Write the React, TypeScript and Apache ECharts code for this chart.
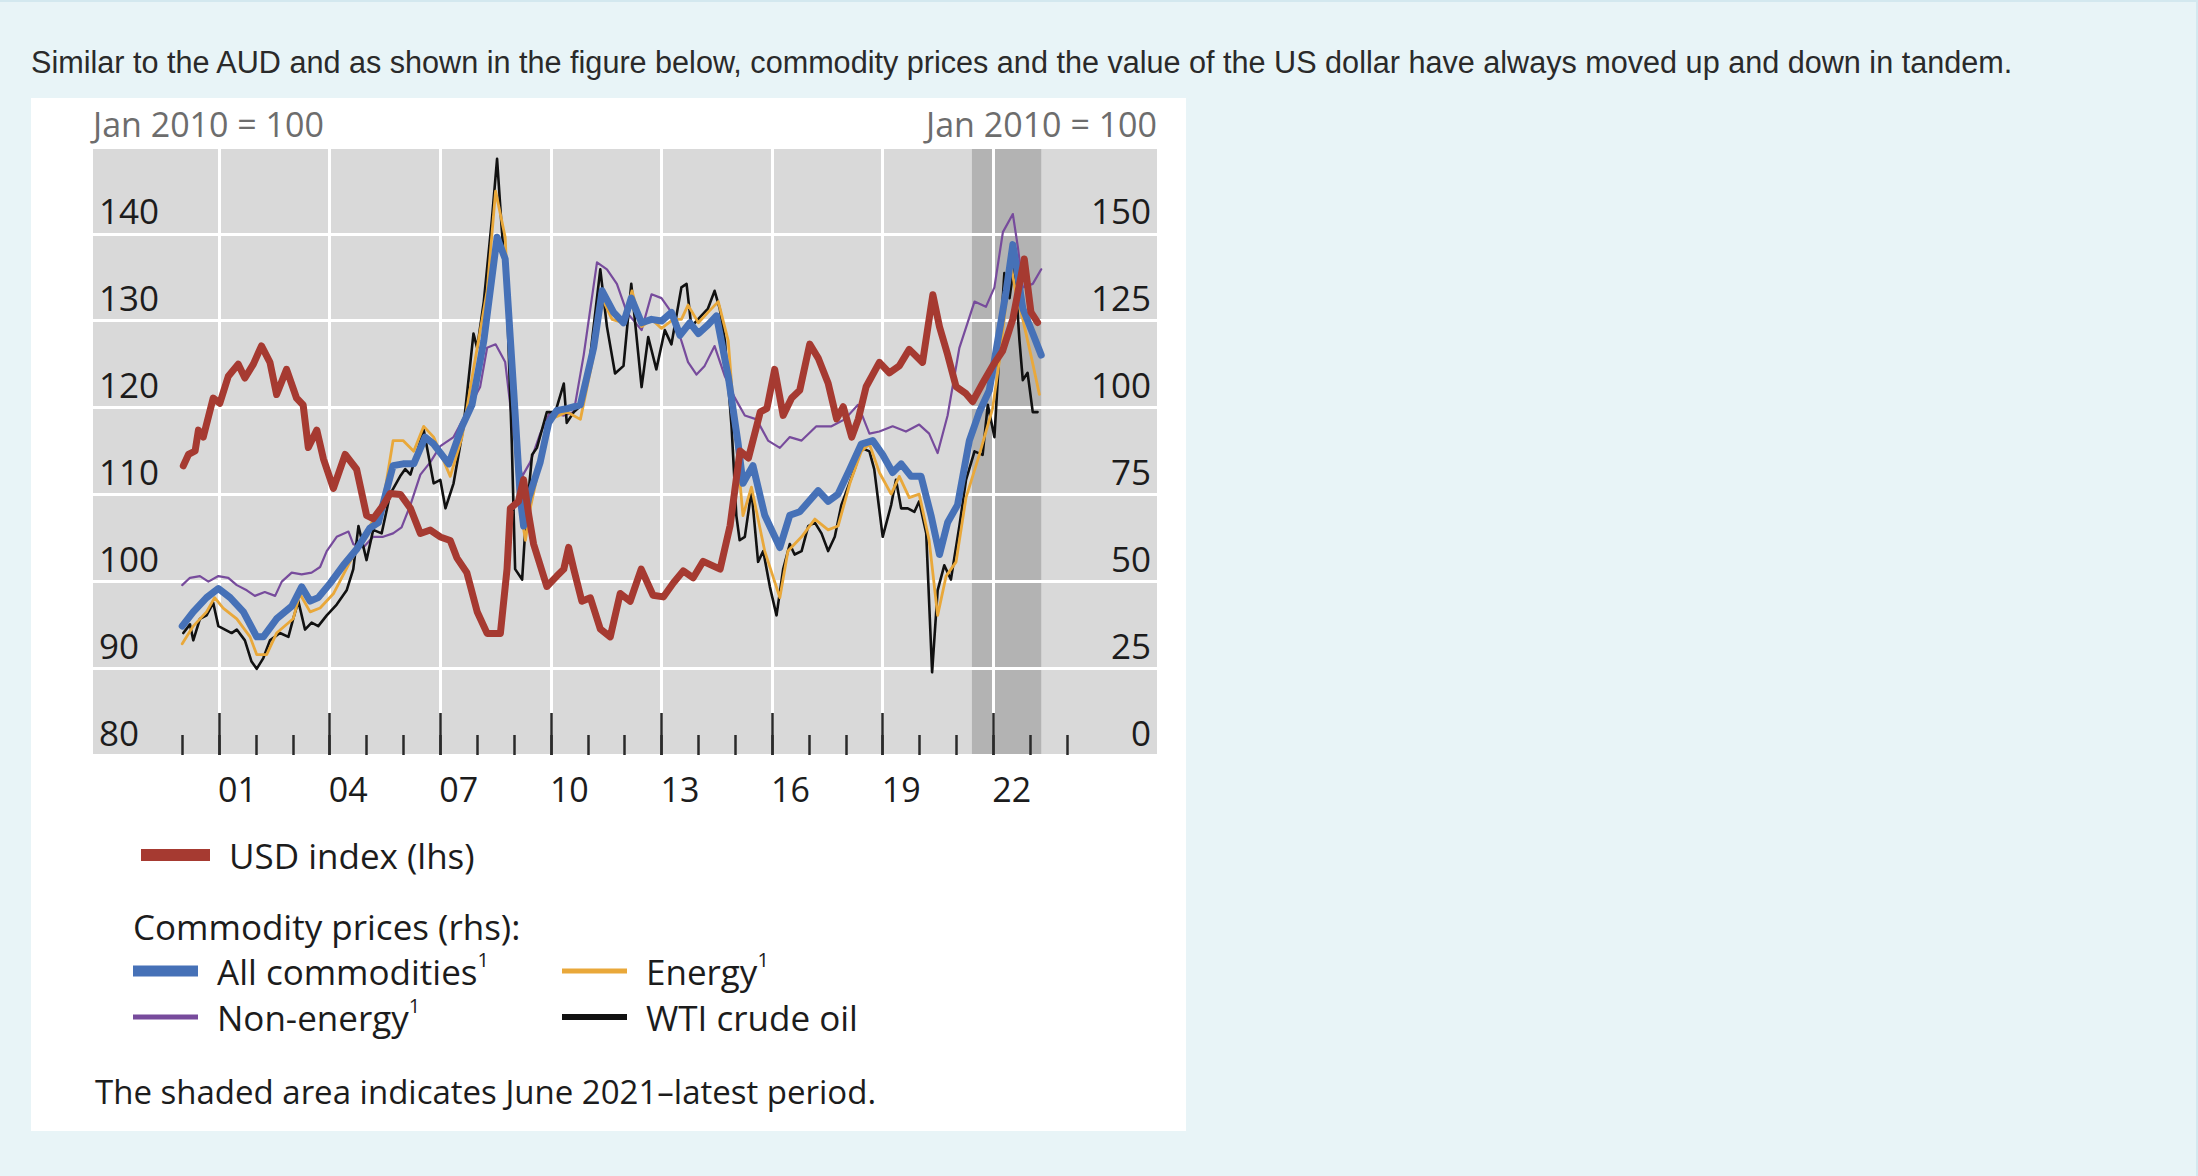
import { useEffect, useRef } from "react";
import * as echarts from "echarts";

const PAGE_W = 2198;
const PAGE_H = 1176;

// ---- data: [decimal year, index] ----
const usdIndex: [number, number][] = [
  [2000.03, 113.3], [2000.17, 114.6], [2000.35, 115.0], [2000.44, 117.4], [2000.57, 116.6], [2000.84, 121.1],
  [2001.02, 120.5], [2001.25, 123.6], [2001.52, 125.0], [2001.70, 123.4], [2001.93, 125.0], [2002.15, 127.1],
  [2002.38, 125.2], [2002.56, 121.5], [2002.83, 124.4], [2003.10, 121.1], [2003.28, 120.3], [2003.42, 115.4],
  [2003.65, 117.4], [2003.83, 114.1], [2004.10, 110.7], [2004.42, 114.6], [2004.73, 112.9], [2005.00, 107.6],
  [2005.18, 107.2], [2005.46, 108.8], [2005.64, 110.1], [2005.92, 110.0], [2006.19, 108.4], [2006.46, 105.5],
  [2006.73, 105.9], [2007.00, 105.1], [2007.27, 104.7], [2007.45, 102.7], [2007.72, 101.0], [2008.00, 96.5],
  [2008.27, 94.0], [2008.63, 94.0], [2008.81, 101.4], [2008.90, 108.4], [2009.12, 109.2], [2009.26, 111.7],
  [2009.40, 107.6], [2009.53, 104.3], [2009.89, 99.4], [2010.16, 100.6], [2010.35, 101.4], [2010.48, 103.9],
  [2010.62, 101.4], [2010.84, 97.7], [2011.07, 98.1], [2011.34, 94.5], [2011.61, 93.6], [2011.88, 98.6],
  [2012.15, 97.7], [2012.45, 101.4], [2012.77, 98.4], [2013.05, 98.2], [2013.32, 99.8], [2013.59, 101.2],
  [2013.86, 100.4], [2014.13, 102.3], [2014.59, 101.4], [2014.86, 106.4], [2015.13, 115.0], [2015.36, 114.2],
  [2015.68, 119.5], [2015.86, 119.9], [2016.07, 124.4], [2016.30, 119.1], [2016.53, 121.1], [2016.75, 122.0],
  [2017.02, 127.3], [2017.25, 125.7], [2017.52, 122.8], [2017.75, 118.7], [2017.93, 120.1], [2018.16, 116.6],
  [2018.34, 118.7], [2018.55, 122.4], [2018.91, 125.2], [2019.18, 124.0], [2019.45, 124.8], [2019.72, 126.7],
  [2020.08, 125.2], [2020.36, 133.0], [2020.54, 129.3], [2020.76, 126.1], [2020.99, 122.4], [2021.26, 121.6],
  [2021.44, 120.7], [2021.71, 122.8], [2021.98, 124.8], [2022.25, 126.5], [2022.53, 130.2], [2022.84, 137.1],
  [2023.02, 131.0], [2023.20, 129.8],
];

const allCommodities: [number, number][] = [
  [2000.00, 37.1], [2000.30, 41.2], [2000.66, 45.3], [2000.98, 47.9], [2001.30, 45.3], [2001.66, 41.2],
  [2002.02, 34.0], [2002.20, 34.0], [2002.56, 39.2], [2002.97, 42.8], [2003.24, 48.4], [2003.47, 44.3],
  [2003.69, 45.3], [2004.01, 49.4], [2004.37, 54.6], [2004.73, 59.2], [2005.09, 65.3], [2005.32, 66.9],
  [2005.54, 76.1], [2005.72, 83.3], [2005.99, 83.8], [2006.28, 83.8], [2006.59, 91.5], [2006.82, 89.5],
  [2007.23, 83.8], [2007.59, 94.6], [2007.86, 100.8], [2008.18, 119.2], [2008.54, 149.0], [2008.76, 142.8],
  [2008.99, 104.9], [2009.17, 74.1], [2009.26, 65.9], [2009.40, 74.1], [2009.71, 84.3], [2009.94, 95.6],
  [2010.16, 99.2], [2010.44, 99.7], [2010.80, 100.8], [2011.16, 117.2], [2011.39, 133.6], [2011.70, 127.4],
  [2011.97, 124.4], [2012.18, 131.5], [2012.46, 124.4], [2012.73, 125.4], [2013.00, 124.9], [2013.27, 127.4],
  [2013.50, 120.8], [2013.77, 124.4], [2014.00, 121.3], [2014.26, 123.8], [2014.49, 126.4], [2014.81, 109.0],
  [2015.08, 89.5], [2015.21, 78.2], [2015.48, 83.3], [2015.80, 69.0], [2016.21, 59.7], [2016.48, 69.0],
  [2016.75, 70.0], [2017.25, 76.1], [2017.52, 73.0], [2017.79, 75.1], [2018.11, 82.3], [2018.42, 89.5],
  [2018.73, 90.5], [2019.00, 86.4], [2019.27, 81.3], [2019.50, 83.8], [2019.77, 80.2], [2020.04, 80.2],
  [2020.31, 69.0], [2020.54, 57.7], [2020.76, 66.9], [2021.03, 72.0], [2021.35, 90.5], [2021.62, 98.7],
  [2021.89, 104.9], [2022.12, 119.2], [2022.35, 133.6], [2022.53, 146.9], [2022.67, 137.7], [2022.80, 128.5],
  [2023.07, 121.3], [2023.30, 115.1],
];

const energy: [number, number][] = [
  [2000.00, 32.0], [2000.30, 37.1], [2000.66, 41.2], [2000.88, 45.3], [2001.11, 42.3], [2001.48, 39.2],
  [2001.84, 34.0], [2002.02, 28.9], [2002.29, 28.9], [2002.56, 35.1], [2003.01, 39.2], [2003.19, 46.4],
  [2003.47, 41.2], [2003.74, 42.3], [2004.10, 46.4], [2004.55, 55.6], [2004.73, 58.7], [2005.09, 65.9],
  [2005.45, 73.0], [2005.72, 90.5], [2005.99, 90.5], [2006.28, 87.4], [2006.55, 94.6], [2006.82, 91.5],
  [2007.27, 80.2], [2007.59, 91.5], [2007.90, 111.0], [2008.27, 133.6], [2008.50, 162.3], [2008.76, 149.0],
  [2008.94, 110.0], [2009.12, 74.1], [2009.31, 61.8], [2009.44, 71.0], [2009.71, 84.3], [2009.98, 96.6],
  [2010.44, 98.7], [2010.80, 96.6], [2011.16, 115.1], [2011.39, 131.5], [2011.66, 125.4], [2011.97, 124.4],
  [2012.20, 133.6], [2012.46, 123.3], [2012.73, 125.4], [2013.00, 122.8], [2013.32, 125.4], [2013.54, 125.4],
  [2013.72, 129.5], [2014.00, 124.4], [2014.26, 127.4], [2014.54, 130.5], [2014.81, 119.2], [2014.99, 94.6],
  [2015.21, 68.9], [2015.44, 77.1], [2015.80, 58.7], [2016.21, 45.3], [2016.43, 58.7], [2016.80, 62.8],
  [2017.16, 67.9], [2017.52, 64.8], [2017.79, 65.9], [2018.11, 78.2], [2018.42, 87.4], [2018.64, 89.5],
  [2018.91, 81.3], [2019.23, 75.1], [2019.45, 80.2], [2019.72, 74.1], [2019.99, 75.1], [2020.26, 61.8],
  [2020.49, 40.2], [2020.72, 51.5], [2020.99, 55.6], [2021.26, 74.1], [2021.62, 86.4], [2021.98, 99.7],
  [2022.16, 113.1], [2022.35, 130.5], [2022.48, 140.8], [2022.62, 132.6], [2022.80, 125.4], [2023.02, 115.1],
  [2023.25, 103.8],
];

const nonEnergy: [number, number][] = [
  [2000.00, 48.9], [2000.21, 51.0], [2000.48, 51.5], [2000.71, 49.9], [2000.98, 51.5], [2001.25, 51.0],
  [2001.48, 48.9], [2001.75, 47.4], [2001.97, 45.8], [2002.24, 46.9], [2002.52, 45.8], [2002.70, 49.9],
  [2002.97, 52.5], [2003.24, 52.0], [2003.51, 52.5], [2003.74, 54.1], [2003.92, 58.7], [2004.19, 62.8],
  [2004.51, 64.3], [2004.64, 60.7], [2004.91, 59.7], [2005.18, 62.8], [2005.45, 62.8], [2005.72, 63.8],
  [2005.95, 65.5], [2006.19, 72.0], [2006.46, 80.7], [2006.73, 84.3], [2007.00, 88.9], [2007.36, 91.5],
  [2007.72, 98.7], [2008.08, 105.9], [2008.27, 117.2], [2008.50, 118.2], [2008.76, 113.1], [2008.99, 92.5],
  [2009.22, 80.2], [2009.44, 84.3], [2009.71, 92.5], [2009.98, 98.7], [2010.35, 97.7], [2010.62, 98.7],
  [2010.89, 115.1], [2011.25, 141.8], [2011.52, 139.8], [2011.79, 135.6], [2012.06, 127.4], [2012.46, 122.3],
  [2012.73, 132.6], [2013.00, 131.5], [2013.27, 127.4], [2013.54, 119.2], [2013.72, 113.1], [2013.95, 109.5],
  [2014.17, 112.0], [2014.44, 117.7], [2014.72, 109.0], [2014.99, 102.8], [2015.26, 97.7], [2015.58, 96.6],
  [2015.89, 90.5], [2016.21, 88.4], [2016.48, 91.5], [2016.80, 90.5], [2017.20, 94.6], [2017.61, 94.6],
  [2017.97, 96.6], [2018.33, 100.8], [2018.64, 92.5], [2018.91, 93.1], [2019.27, 94.6], [2019.63, 93.1],
  [2019.99, 95.1], [2020.26, 92.5], [2020.49, 86.9], [2020.76, 97.7], [2021.08, 117.2], [2021.49, 130.5],
  [2021.80, 129.0], [2022.03, 134.6], [2022.26, 150.5], [2022.53, 155.7], [2022.67, 145.9], [2022.80, 134.6],
  [2023.07, 135.6], [2023.30, 139.8],
];

const wtiCrude: [number, number][] = [
  [2000.03, 35.1], [2000.21, 37.6], [2000.30, 33.0], [2000.48, 39.2], [2000.66, 40.2], [2000.84, 43.8],
  [2000.98, 37.1], [2001.16, 36.1], [2001.34, 35.1], [2001.48, 36.1], [2001.70, 33.0], [2001.88, 26.9],
  [2002.02, 24.8], [2002.20, 27.9], [2002.38, 33.0], [2002.65, 35.1], [2002.88, 34.0], [2003.01, 39.2],
  [2003.15, 44.3], [2003.33, 36.1], [2003.51, 38.1], [2003.69, 37.1], [2003.92, 40.2], [2004.19, 43.3],
  [2004.46, 47.4], [2004.64, 53.5], [2004.78, 65.9], [2005.00, 56.1], [2005.18, 64.8], [2005.41, 63.8],
  [2005.64, 75.1], [2005.91, 80.2], [2006.05, 82.3], [2006.19, 80.7], [2006.55, 93.6], [2006.82, 78.2],
  [2007.00, 79.2], [2007.14, 71.0], [2007.36, 78.2], [2007.63, 94.6], [2007.90, 121.3], [2008.00, 117.2],
  [2008.18, 130.5], [2008.40, 154.1], [2008.54, 171.6], [2008.67, 151.0], [2008.81, 130.5], [2008.94, 89.5],
  [2009.03, 53.5], [2009.22, 50.5], [2009.31, 65.9], [2009.49, 86.4], [2009.62, 88.4], [2009.89, 98.7],
  [2010.12, 98.7], [2010.35, 106.9], [2010.43, 95.6], [2010.62, 98.7], [2010.84, 100.8], [2011.07, 115.1],
  [2011.34, 139.8], [2011.52, 123.3], [2011.74, 109.8], [2011.97, 112.0], [2012.18, 135.6], [2012.46, 105.9],
  [2012.64, 120.3], [2012.86, 111.0], [2013.09, 122.3], [2013.27, 118.2], [2013.54, 134.6], [2013.68, 135.6],
  [2013.81, 123.3], [2013.99, 125.4], [2014.26, 128.5], [2014.44, 133.6], [2014.58, 128.5], [2014.72, 119.2],
  [2014.90, 94.6], [2015.03, 68.9], [2015.12, 61.8], [2015.26, 62.8], [2015.44, 76.1], [2015.62, 55.6],
  [2015.76, 58.7], [2015.94, 48.4], [2016.12, 40.2], [2016.30, 53.5], [2016.48, 60.7], [2016.61, 57.7],
  [2016.80, 58.7], [2016.98, 65.9], [2017.16, 66.9], [2017.34, 63.8], [2017.52, 58.7], [2017.70, 62.8],
  [2017.88, 72.0], [2018.24, 82.3], [2018.42, 88.4], [2018.64, 87.4], [2018.77, 82.3], [2019.00, 62.8],
  [2019.23, 72.0], [2019.36, 79.2], [2019.50, 71.0], [2019.68, 71.0], [2019.86, 70.0], [2019.99, 73.0],
  [2020.18, 63.8], [2020.34, 23.8], [2020.49, 47.4], [2020.67, 54.6], [2020.85, 50.5], [2021.08, 65.9],
  [2021.26, 79.2], [2021.49, 87.4], [2021.71, 86.4], [2021.85, 100.8], [2022.03, 91.5], [2022.16, 115.1],
  [2022.30, 138.7], [2022.44, 131.5], [2022.57, 141.8], [2022.71, 119.2], [2022.80, 107.9], [2022.93, 110.0],
  [2023.07, 98.7], [2023.20, 98.7],
];

// ---- axes ----
const majorYears = [2001, 2004, 2007, 2010, 2013, 2016, 2019, 2022];
const minorYears = [
  2000, 2001, 2002, 2003, 2004, 2005, 2006, 2007, 2008, 2009, 2010, 2011, 2012,
  2013, 2014, 2015, 2016, 2017, 2018, 2019, 2020, 2021, 2022, 2023, 2024,
];
const yearLabels = [2001.5, 2004.5, 2007.5, 2010.5, 2013.5, 2016.5, 2019.5, 2022.5];
const shadedPeriod = [2021.42, 2023.3];
const xExtent = [1997.58, 2026.44];
const lhsExtent = [80, 150];
const rhsExtent = [0, 175];

const FONT = "'Open Sans', 'Noto Sans', sans-serif";
const DARK = "#1c1c1c";

const S = {
  usd: "USD index (lhs)",
  all: "All commodities",
  energy: "Energy",
  non: "Non-energy",
  wti: "WTI crude oil",
};

const LEG_LH = 44;

function legendFor(name: string, left: number, cy: number, thick: number, width: number, sup: boolean) {
  return {
    data: [name],
    left,
    top: cy - LEG_LH / 2,
    orient: "horizontal",
    icon: "rect",
    itemWidth: width,
    itemHeight: thick,
    itemGap: 0,
    padding: 0,
    selectedMode: false,
    formatter: (n: string) => (sup ? `{t|${n}}{s|1}` : `{t|${n}}`),
    textStyle: {
      color: DARK,
      fontFamily: FONT,
      fontSize: 35,
      lineHeight: LEG_LH,
      padding: [0, 0, 0, 14],
      rich: {
        t: { fontSize: 35, lineHeight: LEG_LH, fontFamily: FONT, color: DARK },
        s: { fontSize: 20, lineHeight: 12, verticalAlign: "top", fontFamily: FONT, color: DARK },
      },
    },
  };
}

export default function App() {
  const ref = useRef<HTMLDivElement>(null);

  useEffect(() => {
    if (!ref.current) return;
    const chart = echarts.init(ref.current, undefined, { renderer: "svg" });
    const lineSeries = (name: string, data: [number, number][], color: string, width: number, yAxisIndex: number, z: number) => ({
      name,
      type: "line",
      data,
      xAxisIndex: 0,
      yAxisIndex,
      showSymbol: false,
      symbol: "none",
      color,
      z,
      lineStyle: { color, width, join: "round", cap: "round" },
      emphasis: { disabled: true },
    });

    chart.setOption({
      animation: false,
      backgroundColor: "transparent",
      grid: {
        left: 93,
        top: 147,
        width: 1064,
        height: 608,
        show: true,
        backgroundColor: "#d9d9d9",
        borderWidth: 0,
        containLabel: false,
      },
      xAxis: [
        {
          type: "value",
          min: xExtent[0],
          max: xExtent[1],
          position: "bottom",
          z: 2,
          axisLine: { show: false },
          axisTick: { show: true, inside: true, length: 42, customValues: majorYears, lineStyle: { color: "#2a2a2a", width: 2.5 } },
          axisLabel: { show: false },
          splitLine: { show: true, lineStyle: { color: "#ffffff", width: 3 } },
        },
        {
          type: "value",
          min: xExtent[0],
          max: xExtent[1],
          position: "bottom",
          z: 2,
          axisLine: { show: false },
          axisTick: { show: true, inside: true, length: 20, customValues: minorYears, lineStyle: { color: "#2a2a2a", width: 2.5 } },
          axisLabel: { show: false },
          splitLine: { show: false },
        },
        {
          type: "value",
          min: xExtent[0],
          max: xExtent[1],
          position: "bottom",
          z: 2,
          axisLine: { show: false },
          axisTick: { show: false },
          axisLabel: {
            show: true,
            customValues: yearLabels,
            margin: 14,
            fontSize: 34,
            lineHeight: 40,
            fontFamily: FONT,
            color: DARK,
            formatter: (v: number) => String(Math.floor(v) % 100).padStart(2, "0"),
          },
          splitLine: { show: false },
        },
      ],
      yAxis: [
        {
          type: "value",
          min: lhsExtent[0],
          max: lhsExtent[1],
          interval: 10,
          position: "left",
          z: 2,
          axisLine: { show: false },
          axisTick: { show: false },
          splitLine: { show: true, lineStyle: { color: "#ffffff", width: 3 } },
          axisLabel: {
            inside: true,
            showMaxLabel: false,
            verticalAlign: "bottom",
            lineHeight: 46,
            margin: 6,
            fontSize: 35,
            fontFamily: FONT,
            color: DARK,
          },
          name: "Jan 2010 = 100",
          nameLocation: "end",
          nameGap: 23,
          nameTextStyle: { align: "left", verticalAlign: "middle", fontSize: 34, fontFamily: FONT, color: "#6d6d6d" },
        },
        {
          type: "value",
          min: rhsExtent[0],
          max: rhsExtent[1],
          interval: 25,
          position: "right",
          z: 2,
          axisLine: { show: false },
          axisTick: { show: false },
          splitLine: { show: false },
          axisLabel: {
            inside: true,
            showMaxLabel: false,
            verticalAlign: "bottom",
            lineHeight: 46,
            margin: 6,
            fontSize: 35,
            fontFamily: FONT,
            color: DARK,
          },
          name: "Jan 2010 = 100",
          nameLocation: "end",
          nameGap: 23,
          nameTextStyle: { align: "right", verticalAlign: "middle", fontSize: 34, fontFamily: FONT, color: "#6d6d6d" },
        },
      ],
      legend: [
        legendFor(S.usd, 141, 855, 12, 69, false),
        legendFor(S.all, 133, 971, 11, 65, true),
        legendFor(S.energy, 562, 971, 5, 65, true),
        legendFor(S.non, 133, 1017, 5, 65, true),
        legendFor(S.wti, 562, 1017, 6, 65, false),
      ],
      graphic: [
        {
          type: "text",
          x: 31,
          y: 62,
          style: {
            text: "Similar to the AUD and as shown in the figure below, commodity prices and the value of the US dollar have always moved up and down in tandem.",
            fontSize: 30.6,
            fontFamily: "'Liberation Sans', Arial, sans-serif",
            fill: "#2a2a2a",
            verticalAlign: "middle",
          },
        },
        {
          type: "text",
          x: 133,
          y: 926,
          style: { text: "Commodity prices (rhs):", fontSize: 35, fontFamily: FONT, fill: DARK, verticalAlign: "middle" },
        },
        {
          type: "text",
          x: 95,
          y: 1091,
          style: { text: "The shaded area indicates June 2021\u2013latest period.", fontSize: 33, fontFamily: FONT, fill: DARK, verticalAlign: "middle" },
        },
      ],
      series: [
        {
          name: "shade",
          type: "line",
          data: [],
          xAxisIndex: 0,
          yAxisIndex: 0,
          z: 1,
          silent: true,
          markArea: {
            silent: true,
            itemStyle: { color: "#b3b3b3" },
            data: [[{ xAxis: shadedPeriod[0] }, { xAxis: shadedPeriod[1] }]],
          },
        },
        lineSeries(S.non, nonEnergy, "#774b9c", 2.2, 1, 3),
        lineSeries(S.wti, wtiCrude, "#111111", 2.6, 1, 4),
        lineSeries(S.energy, energy, "#e9a83a", 2.8, 1, 5),
        lineSeries(S.all, allCommodities, "#4671b7", 7, 1, 6),
        lineSeries(S.usd, usdIndex, "#a63a31", 7, 0, 7),
      ],
    });
    return () => chart.dispose();
  }, []);

  return (
    <div
      style={{
        position: "fixed",
        left: 0,
        top: 0,
        width: PAGE_W,
        height: PAGE_H,
        background: "#e8f4f7",
        overflow: "hidden",
        boxSizing: "border-box",
        borderTop: "2px solid #d3e8ef",
        borderRight: "2px solid #d3e8ef",
      }}
    >
      <div style={{ position: "absolute", left: 31, top: 96, width: 1155, height: 1033, background: "#ffffff" }} />
      <div ref={ref} style={{ position: "absolute", left: 0, top: -2, width: PAGE_W, height: PAGE_H }} />
    </div>
  );
}
